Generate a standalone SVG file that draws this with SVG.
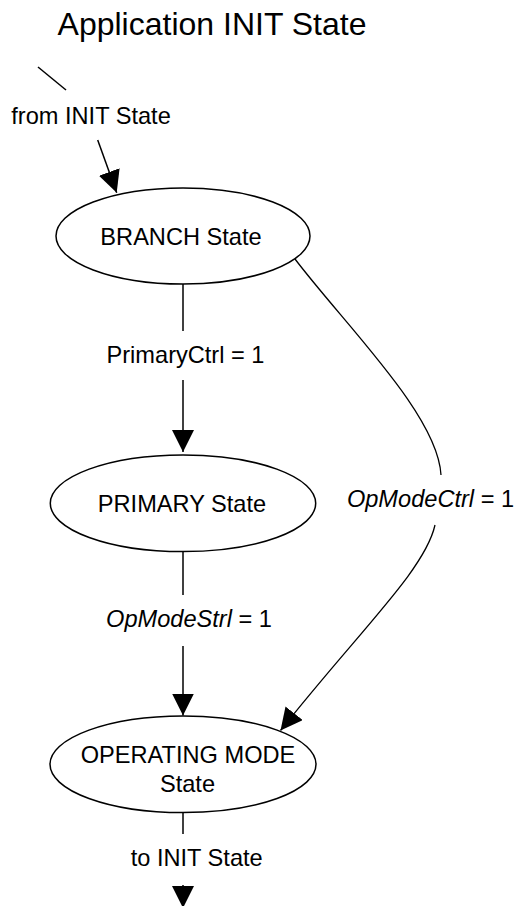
<svg xmlns="http://www.w3.org/2000/svg" width="515" height="906" viewBox="0 0 515 906">
<defs>
<style>
text{font-family:"Liberation Sans",Arial,sans-serif;fill:#000;}
.lbl{font-size:23.6px;text-anchor:middle;}
.title{font-size:32px;text-anchor:middle;}
.node{fill:#fff;stroke:#000;stroke-width:1.5;}
.edge{fill:none;stroke:#000;stroke-width:1.5;}
.thin{stroke-width:1.3;}
</style>
<marker id="arr" markerUnits="userSpaceOnUse" markerWidth="22" markerHeight="22" viewBox="0 0 20 20" refX="20" refY="10" orient="auto">
<path d="M0,0 L20,10 L0,20 Z" fill="#000"/>
</marker>
</defs>
<text class="title" x="212" y="35">Application INIT State</text>

<g id="connectors">
<line class="edge" x1="38" y1="67" x2="66" y2="90"/>
<line class="edge" x1="97.7" y1="140" x2="116.7" y2="192.7" marker-end="url(#arr)"/>
<line class="edge" x1="183" y1="284" x2="183" y2="331"/>
<line class="edge" x1="183" y1="380" x2="183" y2="452" marker-end="url(#arr)"/>
<line class="edge" x1="183" y1="551.5" x2="183" y2="595"/>
<line class="edge" x1="183" y1="646" x2="183" y2="715.5" marker-end="url(#arr)"/>
<line class="edge" x1="183" y1="812.5" x2="183" y2="834"/>
<line class="edge" x1="183" y1="885" x2="183" y2="908" marker-end="url(#arr)"/>
<path class="edge thin" d="M295,259 C345,325 438,415 441,475"/>
<path class="edge thin" d="M435,525 C425,570 360,630 280.5,730.5" marker-end="url(#arr)"/>
<text class="lbl" x="91" y="124">from INIT State</text>
<text class="lbl" x="185.5" y="363">PrimaryCtrl = 1</text>
<text class="lbl" x="189" y="627"><tspan font-style="italic">OpModeStrl</tspan> = 1</text>
<text class="lbl" x="430.5" y="507"><tspan font-style="italic">OpModeCtrl</tspan> = 1</text>
<text class="lbl" x="196.7" y="866">to INIT State</text>
</g>

<g id="branch">
<ellipse class="node" cx="183" cy="236" rx="127" ry="48"/>
<text class="lbl" x="181" y="245">BRANCH State</text>
</g>

<g id="primary">
<ellipse class="node" cx="183" cy="503.3" rx="132.7" ry="48.3"/>
<text class="lbl" x="182" y="512">PRIMARY State</text>
</g>

<g id="operating">
<ellipse class="node" cx="183" cy="764.3" rx="133" ry="48.3"/>
<text class="lbl" x="188" y="763">OPERATING MODE</text>
<text class="lbl" x="187.5" y="792">State</text>
</g>
</svg>
